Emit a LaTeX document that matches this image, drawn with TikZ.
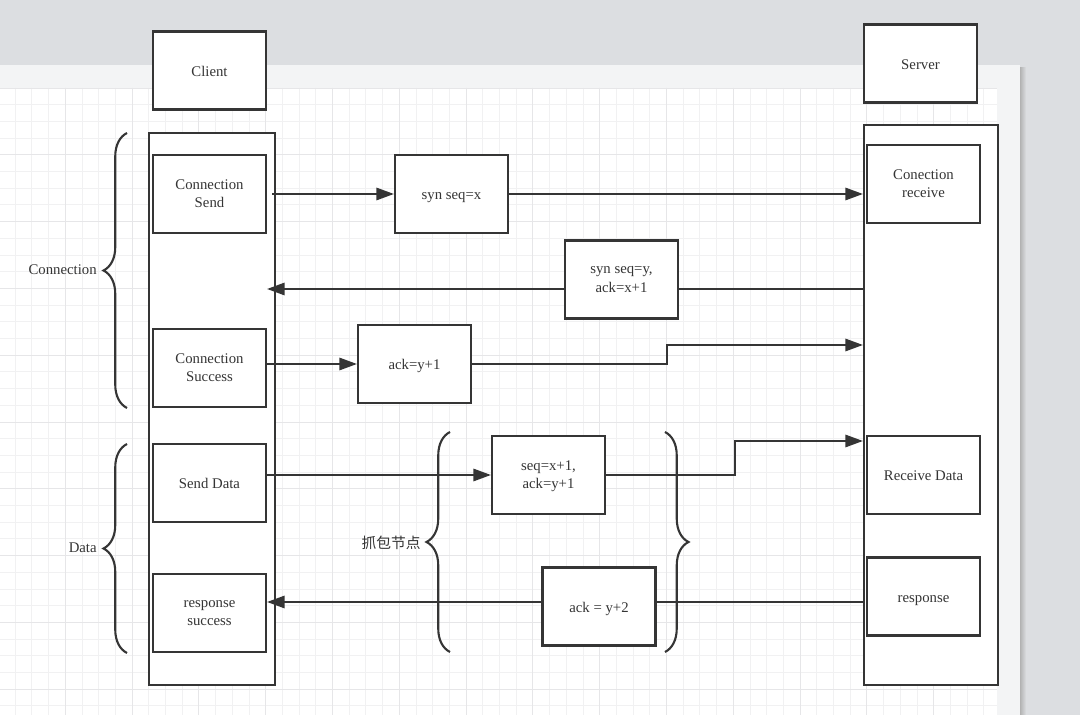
\documentclass[tikz,border=0pt]{standalone}
\usepackage{fontspec}
\setmainfont{Liberation Serif}
\newfontfamily\cjk{Noto Sans CJK SC}
\usetikzlibrary{calc, arrows.meta, decorations.pathreplacing}
\definecolor{inkgray}{HTML}{353535}
\definecolor{deskgray}{HTML}{DCDEE1}
\definecolor{paperedge}{HTML}{F3F4F5}
\definecolor{gridminor}{HTML}{F1F1F2}
\definecolor{gridmajor}{HTML}{E6E6E8}

\begin{document}
\begin{tikzpicture}[
    x = 0.02cm, y = -0.02cm,
    box/.style = {draw = inkgray, fill = white, line width = 1.2pt, text = inkgray,
      align = center, inner sep = 0pt, minimum width = 2.26cm, minimum height = 1.56cm,
      font = \fontsize{8.4}{10.3}\selectfont,
      execute at begin node = {\rule{0pt}{9.6pt}},
      execute at end node = \strut},
    pair/.style = {box, text depth = 0pt},
    lane/.style = {draw = inkgray, fill = white, line width = 1.2pt, inner sep = 0pt},
    link/.style = {draw = inkgray, line width = 1.2pt},
    flow/.style = {link, -{Triangle[length = 10pt, width = 7pt]}},
    brc/.style = {draw = inkgray, line width = 1.2pt, decorate,
      decoration = {brace, amplitude = 0.47cm}},
    tag/.style = {text = inkgray, anchor = east, inner sep = 0pt,
      font = \fontsize{8.4}{10.3}\selectfont}
    ]
  \useasboundingbox (0,0) rectangle (1080,715);
  \fill[deskgray] (0,0) rectangle (1080,715);
  \shade[left color = gray!60, right color = deskgray] (1020,68) rectangle (1026,715);
  \fill[paperedge] (0,65) rectangle (1020,715);
  \fill[white] (0,88) rectangle (997,715);
  \foreach \gx in {0,...,59}
    \draw[gridminor, line width = 0.5pt] ({-1.5+16.7*\gx},88) -- ({-1.5+16.7*\gx},715);
  \foreach \gy in {0,...,37}
    \draw[gridminor, line width = 0.5pt] (0,{88+16.7*\gy}) -- (997,{88+16.7*\gy});
  \foreach \gx in {0,4,...,56}
    \draw[gridmajor, line width = 0.5pt] ({-1.5+16.7*\gx},88) -- ({-1.5+16.7*\gx},715);
  \foreach \gy in {0,4,...,36}
    \draw[gridmajor, line width = 0.5pt] (0,{88+16.7*\gy}) -- (997,{88+16.7*\gy});

  \node[box] (client) at (209.5,70.5) {Client};
  \node[box] (server) at (920.5,63.5) {Server};

  \node[
    lane,
    minimum width = 2.52cm,
    minimum height = 11.04cm
    ] (clientlife) at (212,409) {};
  \node[
    lane,
    minimum width = 2.68cm,
    minimum height = 11.2cm
    ] (serverlife) at (931,405) {};

  \node[pair] (csend) at (209.5,194) {Connection\\Send};
  \node[pair] (csucc) at (209.5,368) {Connection\\Success};
  \node[box] (sdata) at (209.5,483) {Send Data};
  \node[pair] (rsucc) at (209.5,613) {response\\success};

  \node[pair] (crecv) at (923.5,184) {Conection\\receive};
  \node[box] (rdata) at (923.5,475) {Receive Data};
  \node[box] (sresp) at (923.5,596.5) {response};

  \node[box] (syn1) at (451.5,194) {syn seq=x};
  \node[pair] (syn2) at (621.5,279.5) {syn seq=y,\\ack=x+1};
  \node[box] (ack1) at (414.5,364) {ack=y+1};
  \node[pair] (seq) at (548.5,475) {seq=x+1,\\ack=y+1};
  \node[box] (ack2) at (599,606.5) {ack = y+2};

  \coordinate (r2) at (0,289);
  \coordinate (r5) at (0,602);
  \coordinate (b3) at (667,345);
  \coordinate (b4) at (735,441);

  \draw[flow] ($(csend.east)+(5,0)$) -- (syn1.west);
  \draw[flow] (syn1.east) -- (syn1.east -| serverlife.west);
  \draw[link] (serverlife.west |- r2) -- (syn2.east |- r2);
  \draw[flow] (syn2.west |- r2) -- (csend.east |- r2);
  \draw[flow] (csucc.east |- ack1.west) -- (ack1.west);
  \draw[flow] (ack1.east) -| (b3) -- (b3 -| serverlife.west);
  \draw[flow] (sdata.east |- seq.west) -- (seq.west);
  \draw[flow] (seq.east) -| (b4) -- (b4 -| serverlife.west);
  \draw[link] (serverlife.west |- r5) -- (ack2.east |- r5);
  \draw[flow] (ack2.west |- r5) -- (rsucc.east |- r5);

  \draw[brc] (127,408) -- (127,133);
  \draw[brc] (127,653) -- (127,444);
  \draw[brc] (450,652) -- (450,432);
  \draw[brc] (665,432) -- (665,652);

  \node[tag] (conn) at (97,270) {Connection};
  \node[tag] (data) at (97,548) {Data};
  \node[tag] (cap) at (421,543) {\cjk 抓包节点};
\end{tikzpicture}
\end{document}
